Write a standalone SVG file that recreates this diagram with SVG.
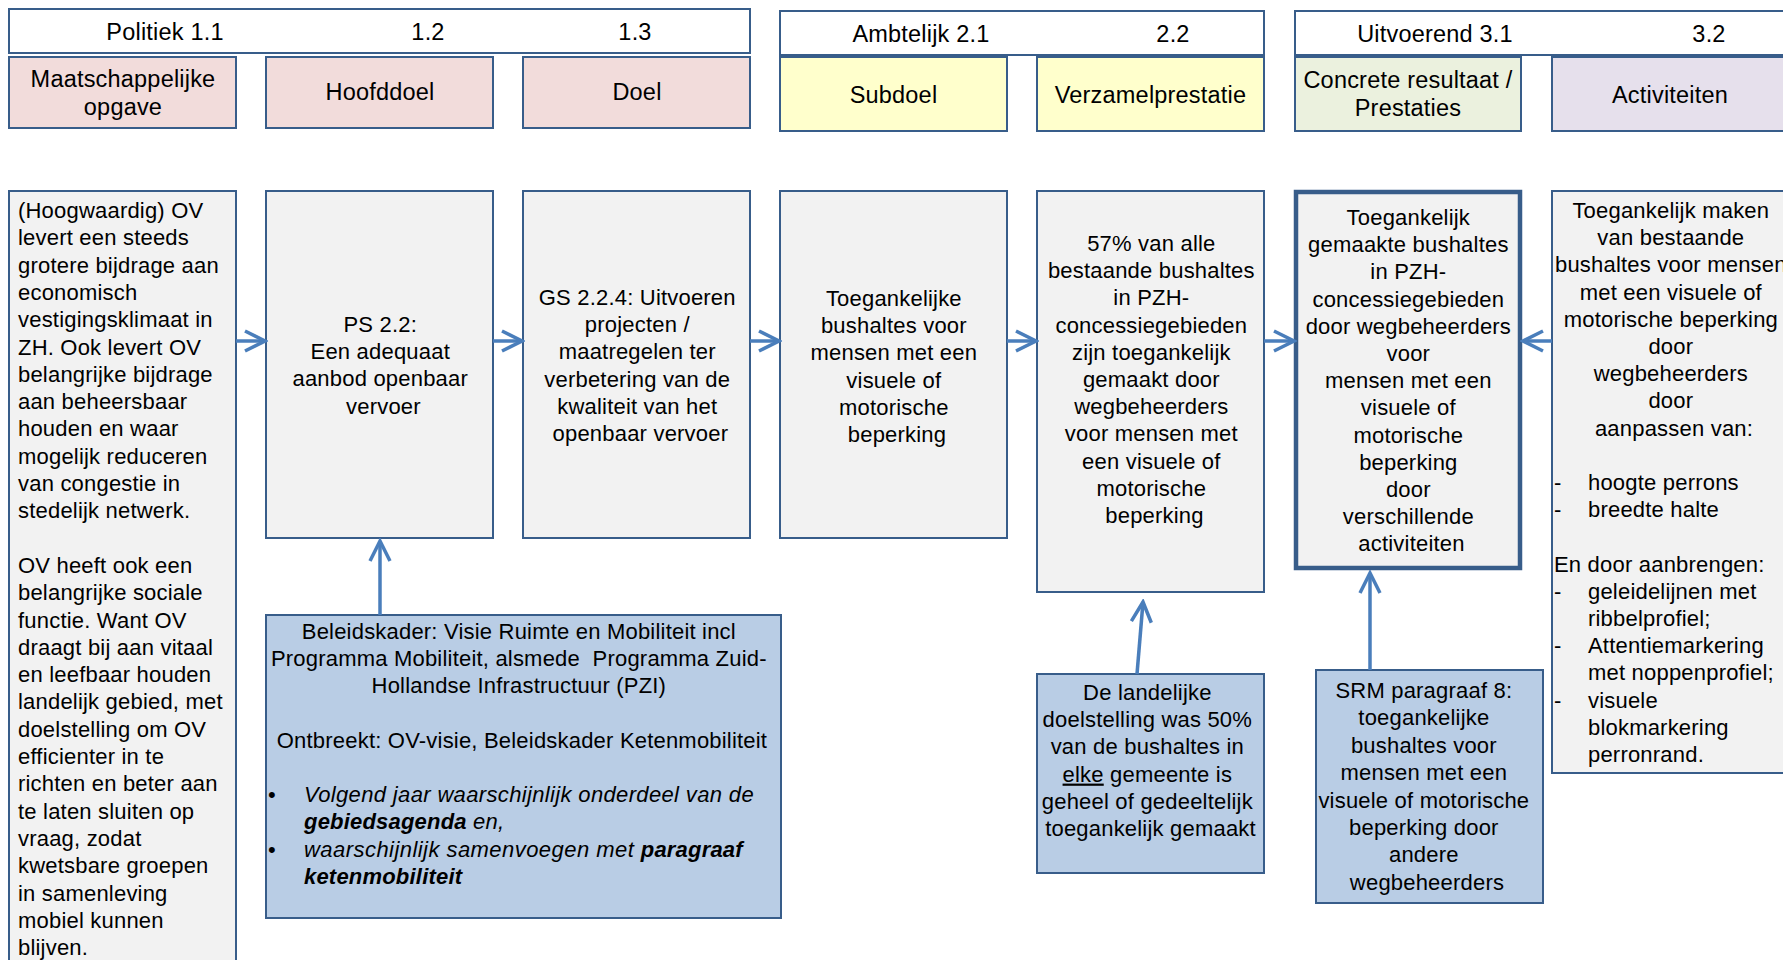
<svg xmlns="http://www.w3.org/2000/svg" width="1783" height="960" viewBox="0 0 1783 960">
<defs>
<style>
.box{stroke:#385d8a;stroke-width:2}
.white{fill:#ffffff}
.pink{fill:#f2dcdb}
.yellow{fill:#ffffcc}
.green{fill:#ebf1de}
.purple{fill:#e6e0ec}
.grey{fill:#f2f2f2}
.blue{fill:#b9cde5}
.t{font-family:"Liberation Sans",Arial,sans-serif;font-size:22px;fill:#000000;letter-spacing:0.2px}
.h{font-size:23.5px}
.c{text-anchor:middle}
.arrow{stroke:#4a7ebb;stroke-width:3.5;fill:none}
.it{font-style:italic}
.b{font-weight:bold}
</style>
<marker id="ah" markerUnits="userSpaceOnUse" viewBox="0 0 24 24" refX="21" refY="12" markerWidth="24" markerHeight="24" orient="auto">
<path d="M1,2 L21,12 L1,22" fill="none" stroke="#4a7ebb" stroke-width="3.5"/>
</marker>
</defs>
<rect width="1783" height="960" fill="#ffffff"/>

<g id="header-politiek">
<rect class="box white" x="9" y="9" width="741" height="44"/>
<text class="t h c" x="165" y="40">Politiek 1.1</text>
<text class="t h c" x="428" y="40">1.2</text>
<text class="t h c" x="635" y="40">1.3</text>
</g>
<g id="header-ambtelijk">
<rect class="box white" x="780" y="11" width="484" height="44"/>
<text class="t h c" x="921" y="42">Ambtelijk 2.1</text>
<text class="t h c" x="1173" y="42">2.2</text>
</g>
<g id="header-uitvoerend">
<rect class="box white" x="1295" y="11" width="500" height="44"/>
<text class="t h c" x="1435" y="42">Uitvoerend 3.1</text>
<text class="t h c" x="1709" y="42">3.2</text>
</g>

<g id="cat-maatschappelijke-opgave">
<rect class="box pink" x="9" y="57" width="227" height="71"/>
<text class="t h c" x="123" y="86.5">Maatschappelijke</text>
<text class="t h c" x="123" y="114.5">opgave</text>
</g>
<g id="cat-hoofddoel">
<rect class="box pink" x="266" y="57" width="227" height="71"/>
<text class="t h c" x="380" y="100">Hoofddoel</text>
</g>
<g id="cat-doel">
<rect class="box pink" x="523" y="57" width="227" height="71"/>
<text class="t h c" x="637" y="100">Doel</text>
</g>
<g id="cat-subdoel">
<rect class="box yellow" x="780" y="57" width="227" height="74"/>
<text class="t h c" x="893.5" y="103">Subdoel</text>
</g>
<g id="cat-verzamelprestatie">
<rect class="box yellow" x="1037" y="57" width="227" height="74"/>
<text class="t h c" x="1150.5" y="103">Verzamelprestatie</text>
</g>
<g id="cat-concrete-resultaat">
<rect class="box green" x="1295" y="57" width="226" height="74"/>
<text class="t h c" x="1408" y="88">Concrete resultaat /</text>
<text class="t h c" x="1408" y="116">Prestaties</text>
</g>
<g id="cat-activiteiten">
<rect class="box purple" x="1552" y="57" width="240" height="74"/>
<text class="t h c" x="1670" y="103">Activiteiten</text>
</g>

<g id="node-maatschappelijke">
<rect class="box grey" x="9" y="191" width="227" height="800"/>
<text class="t" x="18">
<tspan x="18" y="218">(Hoogwaardig) OV</tspan>
<tspan x="18" y="245.3">levert een steeds</tspan>
<tspan x="18" y="272.6">grotere bijdrage aan</tspan>
<tspan x="18" y="299.9">economisch</tspan>
<tspan x="18" y="327.2">vestigingsklimaat in</tspan>
<tspan x="18" y="354.5">ZH. Ook levert OV</tspan>
<tspan x="18" y="381.8">belangrijke bijdrage</tspan>
<tspan x="18" y="409.1">aan beheersbaar</tspan>
<tspan x="18" y="436.4">houden en waar</tspan>
<tspan x="18" y="463.7">mogelijk reduceren</tspan>
<tspan x="18" y="491">van congestie in</tspan>
<tspan x="18" y="518.3">stedelijk netwerk.</tspan>
<tspan x="18" y="572.9">OV heeft ook een</tspan>
<tspan x="18" y="600.2">belangrijke sociale</tspan>
<tspan x="18" y="627.5">functie. Want OV</tspan>
<tspan x="18" y="654.8">draagt bij aan vitaal</tspan>
<tspan x="18" y="682.1">en leefbaar houden</tspan>
<tspan x="18" y="709.4">landelijk gebied, met</tspan>
<tspan x="18" y="736.7">doelstelling om OV</tspan>
<tspan x="18" y="764">efficienter in te</tspan>
<tspan x="18" y="791.3">richten en beter aan</tspan>
<tspan x="18" y="818.6">te laten sluiten op</tspan>
<tspan x="18" y="845.9">vraag, zodat</tspan>
<tspan x="18" y="873.2">kwetsbare groepen</tspan>
<tspan x="18" y="900.5">in samenleving</tspan>
<tspan x="18" y="927.8">mobiel kunnen</tspan>
<tspan x="18" y="955.1">blijven.</tspan>
</text>
</g>

<g id="node-ps22">
<rect class="box grey" x="266" y="191" width="227" height="347"/>
<text class="t c">
<tspan x="383.4" y="332">PS 2.2:</tspan>
<tspan x="383.4" y="359.2">Een adequaat</tspan>
<tspan x="383.4" y="386.4">aanbod openbaar</tspan>
<tspan x="383.4" y="413.6">vervoer</tspan>
</text>
</g>

<g id="node-gs224">
<rect class="box grey" x="523" y="191" width="227" height="347"/>
<text class="t c">
<tspan x="640.4" y="305">GS 2.2.4: Uitvoeren</tspan>
<tspan x="640.4" y="332.2">projecten /</tspan>
<tspan x="640.4" y="359.4">maatregelen ter</tspan>
<tspan x="640.4" y="386.6">verbetering van de</tspan>
<tspan x="640.4" y="413.8">kwaliteit van het</tspan>
<tspan x="640.4" y="441">openbaar vervoer</tspan>
</text>
</g>

<g id="node-subdoel">
<rect class="box grey" x="780" y="191" width="227" height="347"/>
<text class="t c">
<tspan x="897" y="306">Toegankelijke</tspan>
<tspan x="897" y="333.2">bushaltes voor</tspan>
<tspan x="897" y="360.4">mensen met een</tspan>
<tspan x="897" y="387.6">visuele of</tspan>
<tspan x="897" y="414.8">motorische</tspan>
<tspan x="897" y="442">beperking</tspan>
</text>
</g>

<g id="node-verzamelprestatie">
<rect class="box grey" x="1037" y="191" width="227" height="401"/>
<text class="t c">
<tspan x="1154.5" y="251">57% van alle</tspan>
<tspan x="1154.5" y="278.2">bestaande bushaltes</tspan>
<tspan x="1154.5" y="305.4">in PZH-</tspan>
<tspan x="1154.5" y="332.6">concessiegebieden</tspan>
<tspan x="1154.5" y="359.8">zijn toegankelijk</tspan>
<tspan x="1154.5" y="387">gemaakt door</tspan>
<tspan x="1154.5" y="414.2">wegbeheerders</tspan>
<tspan x="1154.5" y="441.4">voor mensen met</tspan>
<tspan x="1154.5" y="468.6">een visuele of</tspan>
<tspan x="1154.5" y="495.8">motorische</tspan>
<tspan x="1154.5" y="523">beperking</tspan>
</text>
</g>

<g id="node-prestaties">
<rect class="grey" x="1296" y="192" width="224" height="376" stroke="#385d8a" stroke-width="4.5"/>
<text class="t c">
<tspan x="1411.5" y="225">Toegankelijk</tspan>
<tspan x="1411.5" y="252.2">gemaakte bushaltes</tspan>
<tspan x="1411.5" y="279.4">in PZH-</tspan>
<tspan x="1411.5" y="306.6">concessiegebieden</tspan>
<tspan x="1411.5" y="333.8">door wegbeheerders</tspan>
<tspan x="1411.5" y="361">voor</tspan>
<tspan x="1411.5" y="388.2">mensen met een</tspan>
<tspan x="1411.5" y="415.4">visuele of</tspan>
<tspan x="1411.5" y="442.6">motorische</tspan>
<tspan x="1411.5" y="469.8">beperking</tspan>
<tspan x="1411.5" y="497">door</tspan>
<tspan x="1411.5" y="524.2">verschillende</tspan>
<tspan x="1411.5" y="551.4">activiteiten</tspan>
</text>
</g>

<g id="node-activiteiten">
<rect class="box grey" x="1552" y="191" width="240" height="582"/>
<text class="t c">
<tspan x="1674" y="218">Toegankelijk maken</tspan>
<tspan x="1674" y="245.2">van bestaande</tspan>
<tspan x="1674" y="272.4">bushaltes voor mensen</tspan>
<tspan x="1674" y="299.6">met een visuele of</tspan>
<tspan x="1674" y="326.8">motorische beperking</tspan>
<tspan x="1674" y="354">door</tspan>
<tspan x="1674" y="381.2">wegbeheerders</tspan>
<tspan x="1674" y="408.4">door</tspan>
<tspan x="1674" y="435.6">aanpassen van:</tspan>
</text>
<text class="t">
<tspan x="1554" y="490">-</tspan><tspan x="1588" y="490">hoogte perrons</tspan>
<tspan x="1554" y="517.2">-</tspan><tspan x="1588" y="517.2">breedte halte</tspan>
<tspan x="1554" y="571.6">En door aanbrengen:</tspan>
<tspan x="1554" y="598.8">-</tspan><tspan x="1588" y="598.8">geleidelijnen met</tspan>
<tspan x="1588" y="626">ribbelprofiel;</tspan>
<tspan x="1554" y="653.2">-</tspan><tspan x="1588" y="653.2">Attentiemarkering</tspan>
<tspan x="1588" y="680.4">met noppenprofiel;</tspan>
<tspan x="1554" y="707.6">-</tspan><tspan x="1588" y="707.6">visuele</tspan>
<tspan x="1588" y="734.8">blokmarkering</tspan>
<tspan x="1588" y="762">perronrand.</tspan>
</text>
</g>

<g id="node-beleidskader">
<rect class="box blue" x="266" y="615" width="515" height="303"/>
<text class="t c">
<tspan x="522" y="639">Beleidskader: Visie Ruimte en Mobiliteit incl</tspan>
<tspan x="522" y="666.2">Programma Mobiliteit, alsmede&#160; Programma Zuid-</tspan>
<tspan x="522" y="693.4">Hollandse Infrastructuur (PZI)</tspan>
<tspan x="522" y="747.8">Ontbreekt: OV-visie, Beleidskader Ketenmobiliteit</tspan>
</text>
<text class="t">
<tspan x="268" y="802.2">•</tspan><tspan x="304" y="802.2" class="it" letter-spacing="0.35">Volgend jaar waarschijnlijk onderdeel van de</tspan>
<tspan x="304" y="829.4" class="it b">gebiedsagenda</tspan><tspan class="it"> en,</tspan>
<tspan x="268" y="856.6">•</tspan><tspan x="304" y="856.6" class="it" letter-spacing="0.45">waarschijnlijk samenvoegen met </tspan><tspan class="it b">paragraaf</tspan>
<tspan x="304" y="883.8" class="it b">ketenmobiliteit</tspan>
</text>
</g>

<g id="node-landelijke-doelstelling">
<rect class="box blue" x="1037" y="674" width="227" height="199"/>
<text class="t c">
<tspan x="1150.5" y="700">De landelijke</tspan>
<tspan x="1150.5" y="727.2">doelstelling was 50%</tspan>
<tspan x="1150.5" y="754.4">van de bushaltes in</tspan>
<tspan x="1150.5" y="781.6"><tspan text-decoration="underline">elke</tspan> gemeente is</tspan>
<tspan x="1150.5" y="808.8">geheel of gedeeltelijk</tspan>
<tspan x="1150.5" y="836">toegankelijk gemaakt</tspan>
</text>
</g>

<g id="node-srm">
<rect class="box blue" x="1316" y="670" width="227" height="233"/>
<text class="t c">
<tspan x="1427" y="698">SRM paragraaf 8:</tspan>
<tspan x="1427" y="725.4">toegankelijke</tspan>
<tspan x="1427" y="752.8">bushaltes voor</tspan>
<tspan x="1427" y="780.2">mensen met een</tspan>
<tspan x="1427" y="807.6">visuele of motorische</tspan>
<tspan x="1427" y="835">beperking door</tspan>
<tspan x="1427" y="862.4">andere</tspan>
<tspan x="1427" y="889.8">wegbeheerders</tspan>
</text>
</g>

<g id="connectors">
<line class="arrow" x1="236" y1="341" x2="265" y2="341" marker-end="url(#ah)"/>
<line class="arrow" x1="493" y1="341" x2="522" y2="341" marker-end="url(#ah)"/>
<line class="arrow" x1="750" y1="341" x2="779" y2="341" marker-end="url(#ah)"/>
<line class="arrow" x1="1007" y1="341" x2="1036" y2="341" marker-end="url(#ah)"/>
<line class="arrow" x1="1264" y1="341" x2="1294" y2="341" marker-end="url(#ah)"/>
<line class="arrow" x1="1552" y1="341" x2="1523" y2="341" marker-end="url(#ah)"/>
<line class="arrow" x1="380" y1="615" x2="380" y2="541" marker-end="url(#ah)"/>
<line class="arrow" x1="1137" y1="674" x2="1143" y2="602" marker-end="url(#ah)"/>
<line class="arrow" x1="1370" y1="670" x2="1370" y2="573" marker-end="url(#ah)"/>
</g>
</svg>
